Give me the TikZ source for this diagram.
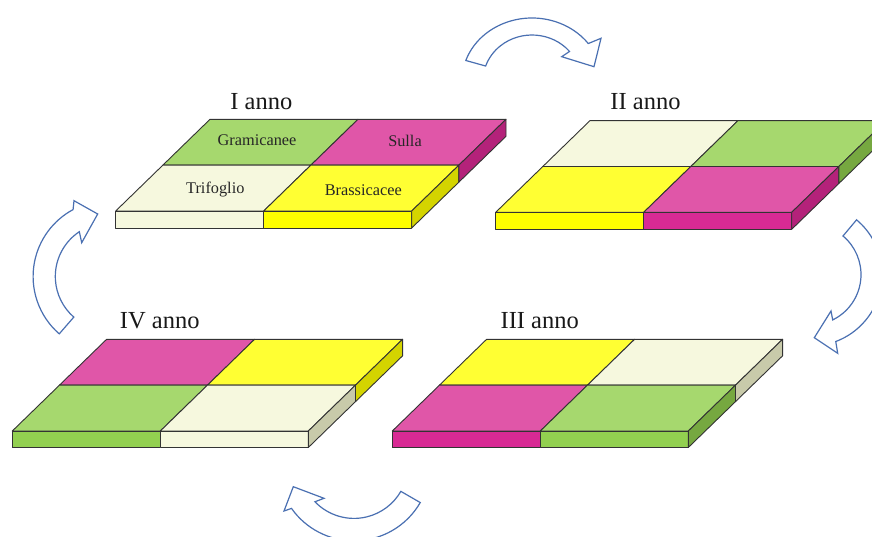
\documentclass[tikz,border=0pt]{standalone}
\usepackage{fontspec}
\setmainfont{Liberation Serif}
\definecolor{grT}{RGB}{166,216,110}
\definecolor{grF}{RGB}{146,208,80}
\definecolor{grS}{RGB}{118,168,64}
\definecolor{mgT}{RGB}{224,86,168}
\definecolor{mgF}{RGB}{216,42,148}
\definecolor{mgS}{RGB}{180,34,122}
\definecolor{ylT}{RGB}{255,255,51}
\definecolor{ylF}{RGB}{255,255,0}
\definecolor{ylS}{RGB}{212,212,0}
\definecolor{crT}{RGB}{246,248,222}
\definecolor{crF}{RGB}{246,248,222}
\definecolor{crS}{RGB}{200,202,170}
\definecolor{arrblue}{RGB}{74,112,178}
\newcommand\board[7]{%
 \begin{scope}[shift={(#1,#2)}]
  \filldraw[face,fill=#4T] (47.15,-45.85) -- (195.15,-45.85) -- (242.3,-91.7) -- (94.3,-91.7) -- cycle;
  \filldraw[face,fill=#5T] (195.15,-45.85) -- (343.15,-45.85) -- (390.3,-91.7) -- (242.3,-91.7) -- cycle;
  \filldraw[face,fill=#6T] (0,0) -- (148,0) -- (195.15,-45.85) -- (47.15,-45.85) -- cycle;
  \filldraw[face,fill=#7T] (148,0) -- (296,0) -- (343.15,-45.85) -- (195.15,-45.85) -- cycle;
  \filldraw[face,fill=#6F] (0,0) rectangle (148,#3);
  \filldraw[face,fill=#7F] (148,0) rectangle (296,#3);
  \filldraw[face,fill=#7S] (296,0) -- (343.15,-45.85) -- (343.15,{-45.85+#3}) -- (296,#3) -- cycle;
  \filldraw[face,fill=#5S] (343.15,-45.85) -- (390.3,-91.7) -- (390.3,{-91.7+#3}) -- (343.15,{-45.85+#3}) -- cycle;
 \end{scope}}
% curved block arrow: #1 cx, #2 cy, #3 outer r, #4 inner r, #5 tail angle, #6 outer base angle,
% #7 inner base angle, #8 outer barb, #9 tip, then inner barb given as \arrbarb
\newcommand\curvedarrow[9]{%
  \draw[arr] ({#1+#3*cos(#5)},{#2+#3*sin(#5)}) arc[start angle=#5, end angle=#6, radius=#3]
    -- #8 -- #9 -- \arrbarb -- ({#1+#4*cos(#7)},{#2+#4*sin(#7)})
    arc[start angle=#7, end angle=#5, radius=#4] -- cycle;}
\begin{document}
\begin{tikzpicture}[x=1pt,y=-1pt,
  face/.style={draw=black!80,line width=0.9pt,line join=round},
  arr/.style={draw=arrblue,fill=white,line width=1.2pt,line join=miter},
  title/.style={anchor=base,inner sep=0pt,text=black!90,font=\fontsize{24.5pt}{28pt}\selectfont},
  lab/.style={anchor=base,inner sep=0pt,text=black!85,font=\fontsize{16.3pt}{19pt}\selectfont}]
\useasboundingbox (0,0) rectangle (872,536);
\clip (0,0) rectangle (872,536);
\fill[white] (0,0) rectangle (872,536);
% boards
\board{115.7}{211}{17}{gr}{mg}{cr}{yl}
\board{495.7}{212.3}{17}{cr}{gr}{yl}{mg}
\board{12.3}{431}{16.5}{mg}{yl}{gr}{cr}
\board{392.3}{431}{16.5}{yl}{cr}{mg}{gr}
% titles
\node[title] (t1) at (261.3,109.3) {I anno};
\node[title] (t2) at (645.5,109.3) {II anno};
\node[title] (t3) at (539.7,328.3) {III anno};
\node[title] (t4) at (159.7,328.3) {IV anno};
% labels
\node[lab] (gram) at (257,145) {Gramicanee};
\node[lab] (sulla) at (405,146) {Sulla};
\node[lab] (trif) at (215.3,193.3) {Trifoglio};
\node[lab] (brass) at (363.3,195) {Brassicacee};
% arrows
% top (elliptic)
\draw[arr] ({532+70*cos(-161)},{81+63*sin(-161)}) arc[start angle=-161, end angle=-36.5, x radius=70, y radius=63]
  -- (601,38.3) -- (594,66.7) -- (561.7,56.7) -- ({532+49*cos(-40)},{81+46*sin(-40)})
  arc[start angle=-40, end angle=-161, x radius=49, y radius=46] -- cycle;
% right
\def\arrbarb{(831,311)}
\curvedarrow{810.6}{274.6}{71.5}{50.4}{-50}{69.4}{64}{(837.7,353.3)}{(814.3,337.7)}
% bottom
\def\arrbarb{(324,498.3)}
\curvedarrow{354}{464.3}{76.5}{54.1}{30}{144.8}{136.2}{(284,511)}{(293.3,486.7)}
% left
\def\arrbarb{(81.7,242.7)}
\curvedarrow{109.1}{276.5}{76}{53.8}{131}{241.7}{236.4}{(74,200.7)}{(97.7,214)}
\end{tikzpicture}
\end{document}
